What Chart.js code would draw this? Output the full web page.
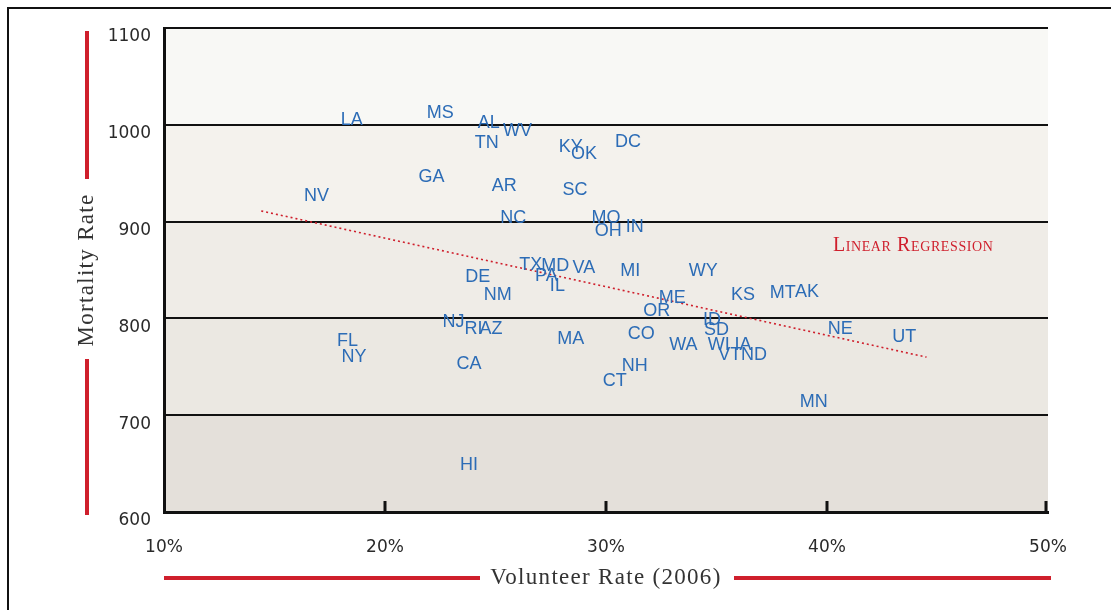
<!DOCTYPE html>
<html>
<head>
<meta charset="utf-8">
<title>Mortality vs Volunteer Rate</title>
<script src="https://cdn.jsdelivr.net/npm/chart.js@4.4.0/dist/chart.umd.min.js"></script>
<style>
  html, body { margin: 0; padding: 0; background: #fff; }
  #wrap { width: 1111px; height: 610px; }
</style>
</head>
<body>
<div id="wrap"><canvas id="scatter" width="1111" height="610"></canvas></div>
<script>
// state abbreviations, volunteer rate (%) and mortality rate
const states = ["LA", "MS", "AL", "WV", "TN", "KY", "OK", "DC", "GA", "NV",
  "AR", "SC", "NC", "MO", "OH", "IN", "TX", "MD", "VA", "PA",
  "IL", "DE", "NM", "MI", "WY", "ME", "KS", "MT", "AK", "OR",
  "ID", "SD", "NE", "UT", "NJ", "RI", "AZ", "FL", "NY", "MA",
  "CO", "WA", "WI", "IA", "VT", "ND", "CA", "NH", "CT", "MN", "HI"]
const volunteer = [18.5, 22.5, 24.7, 26.0, 24.6, 28.4, 29.0, 31.0, 22.1, 16.9,
  25.4, 28.6, 25.8, 30.0, 30.1, 31.3, 26.6, 27.7, 29.0, 27.3,
  27.8, 24.2, 25.1, 31.1, 34.4, 33.0, 36.2, 38.0, 39.1, 32.3,
  34.8, 35.0, 40.6, 43.5, 23.1, 24.0, 24.8, 18.3, 18.6, 28.4,
  31.6, 33.5, 35.1, 36.2, 35.6, 36.7, 23.8, 31.3, 30.4, 39.4, 23.8]
const mortality = [1005, 1012, 1002, 994, 981, 977, 970, 982, 946, 926,
  937, 933, 904, 904, 890, 894, 855, 854, 852, 844,
  833, 843, 824, 849, 849, 821, 824, 826, 827, 808,
  798, 788, 789, 781, 796, 789, 789, 777, 760, 779,
  784, 773, 772, 772, 762, 762, 753, 751, 735, 714, 649]

// regression line end points
const regressionX = [14.4, 44.5]
const regressionY = [911, 760]
const regressionLabel = "Linear Regression"
const regressionLabelAt = [43.9, 875]

const xTicks = [10, 20, 30, 40, 50]
const yTicks = [600, 700, 800, 900, 1000, 1100]
const xTitle = "Volunteer Rate (2006)"
const yTitle = "Mortality Rate"

const bandColors = ["#e4e0da", "#ebe8e2", "#efece7", "#f4f2ed", "#f8f8f5"]
const labelBlue = "#2c6cb6"
const red = "#cf1f2c"

const points = states.map((s, i) => ({ x: volunteer[i], y: mortality[i] }))
const regression = regressionX.map((v, i) => ({ x: v, y: regressionY[i] }))

const decorations = {
  id: "decorations",
  beforeDraw(chart) {
    const { ctx, scales: { x, y } } = chart
    ctx.save()
    for (let i = 0; i < bandColors.length; i++) {
      const top = y.getPixelForValue(yTicks[i + 1])
      const bottom = y.getPixelForValue(yTicks[i])
      ctx.fillStyle = bandColors[i]
      ctx.fillRect(x.left, top, x.right - x.left, bottom - top)
    }
    ctx.restore()
  },
  afterDatasetsDraw(chart) {
    const { ctx } = chart
    const meta = chart.getDatasetMeta(1)
    ctx.save()
    ctx.font = '18px "Liberation Sans", Arial, sans-serif'
    ctx.fillStyle = labelBlue
    ctx.textAlign = "center"
    ctx.textBaseline = "middle"
    meta.data.forEach((pt, i) => ctx.fillText(states[i], pt.x, pt.y))
    ctx.restore()
  },
  afterDraw(chart) {
    const { ctx, scales: { x, y } } = chart
    ctx.save()

    // outer frame (top and left only)
    ctx.strokeStyle = "#111"
    ctx.lineWidth = 2
    ctx.beginPath()
    ctx.moveTo(8, chart.height)
    ctx.lineTo(8, 8)
    ctx.lineTo(chart.width, 8)
    ctx.stroke()

    // small upward ticks on the x axis
    ctx.lineWidth = 3
    xTicks.slice(1).forEach(v => {
      const px = Math.min(x.getPixelForValue(v), x.right - 2)
      ctx.beginPath()
      ctx.moveTo(px, y.bottom)
      ctx.lineTo(px, y.bottom - 11)
      ctx.stroke()
    })

    // regression label in small caps
    ctx.fillStyle = red
    ctx.font = 'small-caps 20px "Liberation Serif", "Times New Roman", serif'
    ctx.letterSpacing = "0.6px"
    ctx.textAlign = "center"
    ctx.textBaseline = "middle"
    ctx.fillText(regressionLabel, x.getPixelForValue(regressionLabelAt[0]), y.getPixelForValue(regressionLabelAt[1]))

    // axis titles
    ctx.fillStyle = "#333"
    ctx.font = '23px "Liberation Serif", "Times New Roman", serif'
    ctx.letterSpacing = "1.3px"
    const cx = (x.left + x.right) / 2
    ctx.fillText(xTitle, cx, 578)
    const cy = (y.top + y.bottom) / 2
    ctx.save()
    ctx.translate(87, cy)
    ctx.rotate(-Math.PI / 2)
    ctx.fillText(yTitle, 0, 0)
    ctx.restore()

    // red rules beside the titles
    ctx.strokeStyle = red
    ctx.lineWidth = 4
    ctx.beginPath()
    ctx.moveTo(x.left, 578); ctx.lineTo(cx - 126, 578)
    ctx.moveTo(cx + 128, 578); ctx.lineTo(x.right + 3, 578)
    ctx.moveTo(87, y.top + 3); ctx.lineTo(87, cy - 91)
    ctx.moveTo(87, cy + 89); ctx.lineTo(87, y.bottom + 3)
    ctx.stroke()

    ctx.restore()
  }
}

new Chart(document.getElementById("scatter"), {
  type: "scatter",
  data: {
    datasets: [
      {
        label: regressionLabel,
        data: regression,
        showLine: true,
        borderColor: red,
        borderWidth: 1.6,
        borderDash: [2, 3],
        pointRadius: 0,
        fill: false
      },
      {
        label: "States",
        data: points,
        pointRadius: 0,
        pointHoverRadius: 0
      }
    ]
  },
  options: {
    responsive: false,
    animation: false,
    layout: { padding: { top: 28, right: 63, bottom: 0, left: 0 } },
    plugins: {
      legend: { display: false },
      tooltip: { enabled: false }
    },
    scales: {
      x: {
        type: "linear",
        min: xTicks[0],
        max: xTicks[xTicks.length - 1],
        afterBuildTicks: s => { s.ticks = xTicks.map(v => ({ value: v })) },
        afterFit: s => { s.height = 98 },
        grid: { display: false, drawTicks: false },
        border: { display: true, color: "#111", width: 3 },
        ticks: {
          padding: 25,
          color: "#2a2a2a",
          font: { family: "DejaVu Sans", size: 17 },
          callback: v => v + "%"
        }
      },
      y: {
        type: "linear",
        min: yTicks[0],
        max: yTicks[yTicks.length - 1],
        afterBuildTicks: s => { s.ticks = yTicks.map(v => ({ value: v })) },
        afterFit: s => { s.width = 164 },
        grid: { color: "#111", lineWidth: 2, drawTicks: false },
        border: { display: true, color: "#111", width: 3 },
        ticks: {
          padding: 13,
          labelOffset: 9,
          color: "#2a2a2a",
          font: { family: "DejaVu Sans", size: 17 },
          callback: v => String(v)
        }
      }
    }
  },
  plugins: [decorations]
})
</script>
</body>
</html>
